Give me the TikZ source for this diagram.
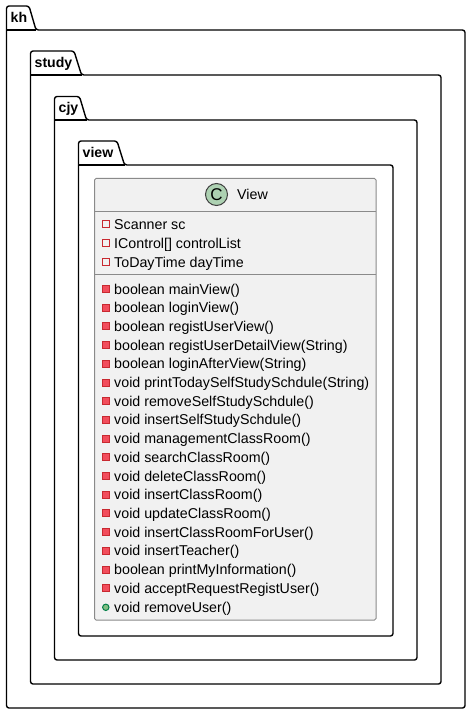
\documentclass[tikz,border=0pt]{standalone}
\usepackage{fontspec}
\setmainfont{Liberation Sans}
\definecolor{pumlborder}{HTML}{8A8A8A}
\definecolor{pumlfill}{HTML}{F1F1F1}
\definecolor{privline}{HTML}{C82930}
\definecolor{privfill}{HTML}{F24D5C}
\definecolor{publine}{HTML}{038048}
\definecolor{pubfill}{HTML}{84BE84}
\definecolor{spotfill}{HTML}{ADD1B2}
\tikzset{
  pkg/.style={draw=black,line width=1.4pt,fill=white,rounded corners=2.5pt,line join=round},
  pkgtext/.style={anchor=base west,inner sep=0pt,font=\fontsize{14.1}{16}\selectfont\bfseries,text=black},
  member/.style={anchor=base west,inner sep=0pt,font=\fontsize{14.25}{16}\selectfont,text=black},
  classbox/.style={draw=pumlborder,line width=1pt,fill=pumlfill,rounded corners=1.5pt},
  sepline/.style={draw=pumlborder,line width=1pt},
  privfield/.style={draw=privline,line width=1pt,fill=none},
  privmeth/.style={draw=privline,line width=1pt,fill=privfill},
  pubmeth/.style={draw=publine,line width=1pt,fill=pubfill},
}
\newcommand{\pkgbox}[8]{%
  \path[pkg] (#2,#4) -- (#2,#3) -- (#5,#3) -- (#6,#4) -- (#7,#4) -- (#7,#8) -- (#2,#8) -- cycle;
  \draw[pkg,rounded corners=0pt] (#2,#4) -- (#6,#4);
}
\begin{document}
\begin{tikzpicture}[x=1pt,y=-1pt]
\useasboundingbox (0,0) rectangle (470,714);
\fill[white] (0,0) rectangle (470,714);
\pkgbox{kh}{6.5}{6}{30}{29}{36}{465}{708}
\node[pkgtext] (kh) at (10.5,23) {kh};
\pkgbox{study}{30.5}{51}{75}{74}{81.5}{441}{684}
\node[pkgtext] (study) at (34.5,68) {study};
\pkgbox{cjy}{54.5}{96.5}{120}{79.5}{86.5}{417}{660}
\node[pkgtext] (cjy) at (58.5,113) {cjy};
\pkgbox{view}{78.5}{141}{165}{117}{124.5}{393}{636}
\node[pkgtext] (view) at (82.5,158) {view};
\path[classbox] (94.5,178.5) rectangle (376,620);
\draw[sepline] (94.5,211) -- (376,211);
\draw[sepline] (94.5,274.5) -- (376,274.5);
\node[circle,draw=black!75,line width=1pt,fill=spotfill,minimum size=22pt,inner sep=0pt,font=\fontsize{17}{19}\selectfont] (spot) at (216.5,194.5) {C};
\node[member] (title) at (237,199.5) {View};
\foreach \y/\t in {229/Scanner sc,248/IControl[] controlList,267/ToDayTime dayTime}{
  \path[privfield] (102.5,\y-8.5) rectangle (109.5,\y-1.5);
  \node[member] at (114,\y) {\t};
}
\foreach \y/\t in {
 294/boolean mainView(),
 312.7/boolean loginView(),
 331.4/boolean registUserView(),
 350.1/boolean registUserDetailView(String),
 368.8/boolean loginAfterView(String),
 387.5/void printTodaySelfStudySchdule(String),
 406.2/void removeSelfStudySchdule(),
 424.9/void insertSelfStudySchdule(),
 443.6/void managementClassRoom(),
 462.3/void searchClassRoom(),
 481/void deleteClassRoom(),
 499.7/void insertClassRoom(),
 518.4/void updateClassRoom(),
 537.1/void insertClassRoomForUser(),
 555.8/void insertTeacher(),
 574.5/boolean printMyInformation(),
 593.2/void acceptRequestRegistUser()}{
  \path[privmeth] (102.5,\y-8.5) rectangle (109.5,\y-1.5);
  \node[member] at (114,\y) {\t};
}
\path[pubmeth] (105.8,607.3) circle (3.2);
\node[member] (last) at (114,612) {void removeUser()};
\end{tikzpicture}
\end{document}
